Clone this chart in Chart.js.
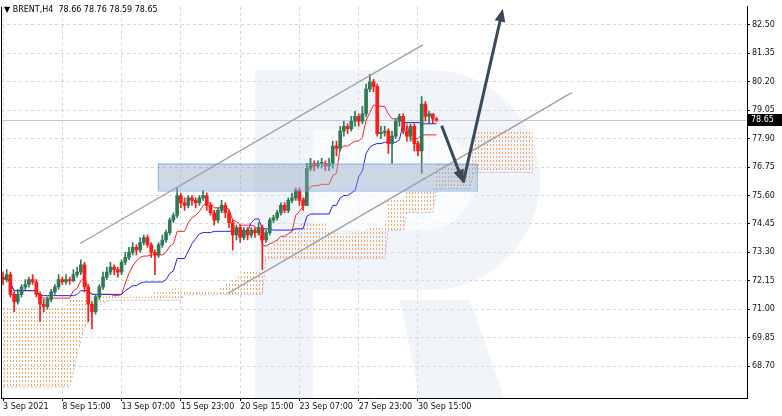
<!DOCTYPE html>
<html>
<head>
<meta charset="utf-8">
<script src="https://cdn.jsdelivr.net/npm/chart.js@4/dist/chart.umd.min.js"></script>
<style>
  html, body { margin: 0; padding: 0; background: #fff; }
  #wrap { width: 782px; height: 416px; }
</style>
</head>
<body>
<div id="wrap"><canvas id="chart"></canvas></div>
<script>
'use strict';

// BRENT H4 candles, 3 Sep .. 30 Sep 2021
const opens = [72.3,72.2,72.4,71.6,71.3,71.6,71.9,72.0,72.2,72.1,
  71.6,71.2,71.1,71.4,71.7,71.9,72.2,72.1,72.2,72.15,
  72.4,72.5,72.8,71.9,71.2,70.9,71.5,71.9,72.3,72.5,
  72.7,72.6,72.5,72.9,73.1,73.3,73.5,73.4,73.7,73.9,
  73.6,73.3,73.2,73.6,73.8,74.1,74.6,74.8,75.6,75.3,
  75.2,75.5,75.4,75.3,75.5,75.6,75.2,74.9,74.6,75.0,
  75.2,74.9,74.5,74.0,74.3,73.9,74.2,74.0,74.2,74.1,
  74.3,73.8,74.1,74.6,74.7,74.9,75.2,75.0,75.4,75.5,
  75.8,75.4,75.2,76.7,76.9,76.8,76.9,76.9,76.8,76.9,
  77.6,77.5,78.2,78.4,78.3,78.6,78.8,78.6,78.9,79.9,
  80.2,80.0,78.1,78.15,78.2,77.7,78.0,78.6,78.8,78.2,
  78.0,78.4,77.7,77.4,79.3,78.8,78.9,78.66];
const highs = [72.5,72.6,72.5,71.7,71.8,72.0,72.2,72.3,72.4,72.2,
  71.7,71.4,71.5,71.8,72.0,72.4,72.3,72.4,72.3,72.6,
  72.7,73.0,72.9,72.0,71.3,71.6,72.0,72.5,72.7,72.9,
  72.8,72.7,73.0,73.3,73.5,73.7,73.6,73.9,74.0,74.0,
  73.7,73.4,73.7,74.0,74.2,74.7,74.9,75.9,75.7,75.5,
  75.6,75.6,75.5,75.6,75.8,75.7,75.3,75.0,75.1,75.4,
  75.3,75.0,74.6,74.4,74.4,74.3,74.3,74.3,74.3,74.5,
  74.4,74.2,74.7,74.8,75.0,75.3,75.3,75.5,75.7,75.9,
  75.9,75.5,76.9,77.1,77.0,77.0,77.1,77.0,77.1,77.8,
  77.8,78.4,78.6,78.5,78.8,79.0,78.9,79.2,80.1,80.5,
  80.3,80.1,78.4,78.4,78.3,78.2,78.7,78.9,78.9,78.4,
  78.5,78.5,77.8,79.6,79.4,79.0,78.9,78.76];
const lows = [72.0,72.1,71.5,70.9,71.2,71.5,71.8,71.9,72.0,71.5,
  70.5,70.9,71.0,71.3,71.6,71.8,72.0,72.0,72.0,72.1,
  72.3,72.4,71.7,70.5,70.2,70.8,71.4,71.8,72.2,72.4,
  72.4,72.3,72.4,72.8,73.0,73.2,73.2,73.3,73.6,73.5,
  73.1,72.4,73.1,73.5,73.7,74.0,74.5,74.7,75.1,75.0,
  75.1,75.2,75.1,75.2,75.4,75.0,74.8,74.4,74.5,74.9,
  74.7,74.3,73.4,73.8,73.7,73.8,73.8,73.9,73.9,74.0,
  72.6,73.7,74.0,74.5,74.6,74.8,74.9,74.9,75.3,75.4,
  75.2,75.0,75.2,76.6,76.6,76.7,76.7,76.6,76.6,76.7,
  77.2,77.4,78.0,78.1,78.2,78.4,78.4,78.5,78.8,79.8,
  79.8,78.0,77.9,78.0,77.3,76.9,77.9,78.4,78.1,77.8,
  77.8,77.4,77.2,76.5,78.6,78.5,78.5,78.59];
const closes = [72.2,72.4,71.6,71.3,71.6,71.9,72.0,72.2,72.1,71.6,
  71.2,71.1,71.4,71.7,71.9,72.2,72.1,72.2,72.15,72.4,
  72.5,72.8,71.9,71.2,70.9,71.5,71.9,72.3,72.5,72.7,
  72.6,72.5,72.9,73.1,73.3,73.5,73.4,73.7,73.9,73.6,
  73.3,73.2,73.6,73.8,74.1,74.6,74.8,75.6,75.3,75.2,
  75.5,75.4,75.3,75.5,75.6,75.2,74.9,74.6,75.0,75.2,
  74.9,74.5,74.0,74.3,73.9,74.2,74.0,74.2,74.1,74.3,
  73.8,74.1,74.6,74.7,74.9,75.2,75.0,75.4,75.5,75.8,
  75.4,75.2,76.7,76.9,76.8,76.9,76.9,76.8,76.9,77.6,
  77.5,78.2,78.4,78.3,78.6,78.8,78.6,78.9,79.9,80.2,
  80.0,78.1,78.15,78.2,77.7,78.0,78.6,78.8,78.2,78.0,
  78.4,77.7,77.4,79.3,78.8,78.9,78.7,78.65];

// Ichimoku cloud edges (bar 0 .. 143, 26 bars ahead)
const spanA = [71.04,71.04,71.04,71.04,71.04,71.04,71.04,71.04,71.04,71.04,
  71.04,71.04,71.04,71.04,71.04,71.04,71.04,71.04,71.48,71.48,
  71.48,71.48,71.5,71.5,71.5,71.5,71.5,71.5,71.55,71.55,
  71.55,71.5,71.5,71.5,71.5,71.5,71.5,71.5,71.5,71.5,
  71.5,71.7,71.75,71.75,71.8,71.8,71.85,71.85,71.75,71.7,
  71.7,71.7,71.7,71.7,71.7,71.7,71.7,71.7,71.8,71.9,
  72.0,72.1,72.2,72.3,72.4,72.5,72.57,72.57,72.57,72.57,
  72.57,73.3,73.5,73.6,73.8,73.9,74.0,74.1,74.2,74.3,
  74.4,74.5,74.5,74.5,74.5,74.5,74.5,74.5,74.1,74.1,
  74.1,74.05,74.05,74.05,74.1,74.1,74.1,74.2,74.2,74.3,
  74.3,74.3,74.3,74.3,75.5,75.5,75.5,75.5,75.5,75.8,
  75.8,75.8,75.8,75.8,75.8,75.8,75.8,76.9,76.9,76.9,
  76.9,76.9,76.9,76.9,76.9,76.9,76.9,78.26,78.26,78.26,
  78.26,78.26,78.26,78.26,78.26,78.26,78.26,78.26,78.26,78.26,
  78.26,78.26,78.26,78.26];
const spanB = [67.85,67.85,67.85,67.85,67.85,67.85,67.85,67.85,67.85,67.85,
  67.85,67.85,67.85,67.85,67.85,67.85,67.85,67.85,67.85,68.5,
  69.2,69.7,70.2,70.5,70.8,71.0,71.15,71.25,71.3,71.36,
  71.36,71.36,71.36,71.36,71.36,71.36,71.36,71.36,71.36,71.36,
  71.36,71.36,71.36,71.36,71.36,71.36,71.36,71.36,71.36,71.6,
  71.6,71.6,71.6,71.6,71.6,71.6,71.6,71.6,71.6,71.6,
  71.6,71.6,71.6,71.6,71.6,71.6,71.6,71.6,71.6,71.6,
  71.6,73.06,73.06,73.06,73.06,73.06,73.06,73.06,73.06,73.06,
  73.06,73.06,73.06,73.06,73.06,73.06,73.06,73.06,73.06,73.06,
  73.06,73.06,73.06,73.06,73.06,73.06,73.06,73.06,73.06,73.06,
  73.06,73.06,73.06,73.06,74.19,74.19,74.19,74.19,74.19,74.91,
  74.91,74.91,74.91,74.91,74.91,74.91,74.91,75.88,75.88,75.88,
  75.88,75.88,75.88,75.88,75.88,75.88,75.88,76.53,76.53,76.53,
  76.53,76.53,76.53,76.53,76.53,76.53,76.53,76.53,76.53,76.53,
  76.53,76.53,76.53,76.53];

const timeTicks = [0, 16, 32, 48, 64, 80, 96, 112];
const timeLabels = ['3 Sep 2021', '8 Sep 15:00', '13 Sep 07:00', '15 Sep 23:00',
  '20 Sep 15:00', '23 Sep 07:00', '27 Sep 23:00', '30 Sep 15:00'];
const priceTicks = [68.70, 69.85, 71.00, 72.15, 73.30, 74.45, 75.60, 76.75, 77.90, 79.05, 80.20, 81.35, 82.50];
const lastPrice = 78.65;

// analyst drawings in (bar, price)
const channelUpper = [[20.8, 73.66], [113.3, 81.69]];
const channelLower = [[60.7, 71.64], [153.5, 79.76]];
const zoneBox = { x0: 41.8, x1: 127.9, top: 76.89, bottom: 75.80 };
const arrowDown = [[118.4, 78.42], [124.2, 76.12]];
const arrowUp = [[124.2, 76.12], [134.9, 83.15]];

const UP = '#2f7a55', DOWN = '#ff1a1a';
const idx = closes.map((_, i) => i);
const candleColors = idx.map(i => closes[i] >= opens[i] ? UP : DOWN);

// Tenkan / Kijun from the candles
function midRange(i, n) {
    const from = Math.max(0, i - n + 1);
    const hh = Math.max(...highs.slice(from, i + 1));
    const ll = Math.min(...lows.slice(from, i + 1));
    return (hh + ll) / 2;
}
const tenkan = idx.map(i => ({ x: i, y: midRange(i, 9) }));
const kijun = idx.map(i => ({ x: i, y: midRange(i, 26) }));

// dotted orange hatch for the cloud
function hatch() {
    const c = document.createElement('canvas');
    c.width = 3; c.height = 4;
    const g = c.getContext('2d');
    g.fillStyle = 'rgba(244,150,70,0.8)';
    g.fillRect(1, 0, 1, 2);
    return g.createPattern(c, 'repeat');
}

const FONT = { family: 'DejaVu Sans', size: 8 };

const overlays = {
    id: 'overlays',
    beforeDatasetsDraw(chart) {
        const { ctx, chartArea: a } = chart;
        ctx.save();
        ctx.beginPath();
        ctx.rect(a.left, a.top, a.right - a.left, a.bottom - a.top);
        ctx.clip();
        // faint logo watermark
        ctx.fillStyle = 'rgba(214,224,238,0.35)';
        ctx.fillRect(255, 70, 58, 330);
        ctx.beginPath();
        ctx.moveTo(313, 70);
        ctx.lineTo(430, 70);
        ctx.arc(430, 180, 110, -Math.PI / 2, Math.PI / 2);
        ctx.lineTo(313, 290);
        ctx.closePath();
        ctx.fill();
        ctx.beginPath();
        ctx.moveTo(400, 300); ctx.lineTo(470, 300); ctx.lineTo(505, 400); ctx.lineTo(420, 400);
        ctx.closePath();
        ctx.fill();
        ctx.fillStyle = '#fff';
        ctx.beginPath();
        ctx.moveTo(313, 130); ctx.lineTo(425, 130);
        ctx.arc(425, 180, 50, -Math.PI / 2, Math.PI / 2);
        ctx.lineTo(313, 230);
        ctx.closePath();
        ctx.globalAlpha = 0.6;
        ctx.fill();
        ctx.restore();
        // last price line
        const y = chart.scales.y.getPixelForValue(lastPrice);
        ctx.save();
        ctx.strokeStyle = '#c8c8c8';
        ctx.lineWidth = 1;
        ctx.beginPath();
        ctx.moveTo(a.left, Math.round(y) + 0.5);
        ctx.lineTo(a.right, Math.round(y) + 0.5);
        ctx.stroke();
        ctx.restore();
    },
    afterDatasetsDraw(chart) {
        const { ctx, chartArea: a, scales: { x, y } } = chart;
        const px = p => [x.getPixelForValue(p[0]), y.getPixelForValue(p[1])];
        ctx.save();
        ctx.beginPath();
        ctx.rect(a.left, a.top, a.right - a.left, a.bottom - a.top);
        ctx.clip();
        // channel
        ctx.strokeStyle = '#a0a0a0';
        ctx.lineWidth = 1.3;
        [channelUpper, channelLower].forEach(ln => {
            const p0 = px(ln[0]), p1 = px(ln[1]);
            ctx.beginPath(); ctx.moveTo(...p0); ctx.lineTo(...p1); ctx.stroke();
        });
        // support zone
        const bx0 = x.getPixelForValue(zoneBox.x0), bx1 = x.getPixelForValue(zoneBox.x1);
        const by0 = y.getPixelForValue(zoneBox.top), by1 = y.getPixelForValue(zoneBox.bottom);
        ctx.fillStyle = 'rgba(140,165,195,0.42)';
        ctx.fillRect(bx0, by0, bx1 - bx0, by1 - by0);
        ctx.strokeStyle = 'rgba(110,160,230,0.7)';
        ctx.lineWidth = 1;
        ctx.strokeRect(bx0 + 0.5, by0 + 0.5, bx1 - bx0, by1 - by0);
        // forecast arrows
        ctx.strokeStyle = '#3a4a5c';
        ctx.fillStyle = '#3a4a5c';
        ctx.lineWidth = 3;
        [arrowDown, arrowUp].forEach(ar => {
            const [x0, y0] = px(ar[0]), [x1, y1] = px(ar[1]);
            const ang = Math.atan2(y1 - y0, x1 - x0);
            const hl = 14;
            ctx.beginPath();
            ctx.moveTo(x0, y0);
            ctx.lineTo(x1 - Math.cos(ang) * 8, y1 - Math.sin(ang) * 8);
            ctx.stroke();
            ctx.beginPath();
            ctx.moveTo(x1, y1);
            ctx.lineTo(x1 - hl * Math.cos(ang - 0.4), y1 - hl * Math.sin(ang - 0.4));
            ctx.lineTo(x1 - hl * Math.cos(ang + 0.4), y1 - hl * Math.sin(ang + 0.4));
            ctx.closePath();
            ctx.fill();
        });
        ctx.restore();

        // frame, header, price tag
        ctx.save();
        ctx.strokeStyle = '#000';
        ctx.lineWidth = 1;
        ctx.beginPath();
        ctx.moveTo(a.left + 0.5, a.top); ctx.lineTo(a.left + 0.5, a.bottom);
        ctx.stroke();
        ctx.fillStyle = '#000';
        ctx.font = '8px "DejaVu Sans"';
        ctx.textBaseline = 'middle';
        ctx.fillText('\u25BC BRENT,H4  78.66 78.76 78.59 78.65', 4, 10);
        const ty = Math.round(y.getPixelForValue(lastPrice));
        ctx.fillRect(a.right, ty - 6, 782 - a.right, 12);
        ctx.fillStyle = '#fff';
        ctx.fillText('78.65', a.right + 4, ty);
        ctx.restore();
    }
};

new Chart(document.getElementById('chart'), {
    data: {
        datasets: [
            {
                type: 'bar', data: idx.map(i => ({ x: i, y: [lows[i], highs[i]] })),
                backgroundColor: candleColors, barThickness: 1, grouped: false, order: 2
            },
            {
                type: 'bar', data: idx.map(i => ({ x: i, y: [opens[i], closes[i]] })),
                backgroundColor: candleColors, barThickness: 3, minBarLength: 1, grouped: false, order: 1
            },
            {
                type: 'line', data: spanA.map((v, i) => ({ x: i, y: v })),
                borderColor: 'rgba(0,0,0,0)', borderWidth: 0, pointRadius: 0, order: 5
            },
            {
                type: 'line', data: spanB.map((v, i) => ({ x: i, y: v })),
                borderColor: 'rgba(185,165,210,0.8)', borderWidth: 1, borderDash: [2, 2],
                pointRadius: 0, fill: '-1', backgroundColor: hatch(), order: 4
            },
            {
                type: 'line', data: kijun, borderColor: '#1f1fff', borderWidth: 1,
                pointRadius: 0, order: 3
            },
            {
                type: 'line', data: tenkan, borderColor: '#ff2020', borderWidth: 1,
                pointRadius: 0, order: 3
            }
        ]
    },
    options: {
        responsive: true,
        maintainAspectRatio: false,
        animation: false,
        events: [],
        layout: { padding: { top: 6, left: 1, right: 0, bottom: 0 } },
        plugins: { legend: { display: false }, tooltip: { enabled: false } },
        scales: {
            x: {
                type: 'linear', min: -0.54, max: 200.8, offset: false,
                afterBuildTicks: s => { s.ticks = timeTicks.map(v => ({ value: v })); },
                afterFit: s => { s.height = 18; },
                ticks: {
                    autoSkip: false, maxRotation: 0, align: 'start', padding: 1,
                    color: '#111', font: FONT,
                    callback: v => timeLabels[timeTicks.indexOf(v)]
                },
                grid: { color: '#d6d6d6', tickLength: 3, tickColor: '#000', offset: false },
                border: { display: true, color: '#000', dash: [3, 3] }
            },
            y: {
                position: 'right', min: 67.41, max: 83.23,
                afterBuildTicks: s => { s.ticks = priceTicks.map(v => ({ value: v })); },
                afterFit: s => { s.width = 35; },
                ticks: { color: '#111', font: FONT, padding: 2, callback: v => v.toFixed(2) },
                grid: { color: '#d6d6d6', tickLength: 3, tickColor: '#000' },
                border: { display: true, color: '#000', dash: [3, 3] }
            }
        }
    },
    plugins: [overlays]
});
</script>
</body>
</html>
